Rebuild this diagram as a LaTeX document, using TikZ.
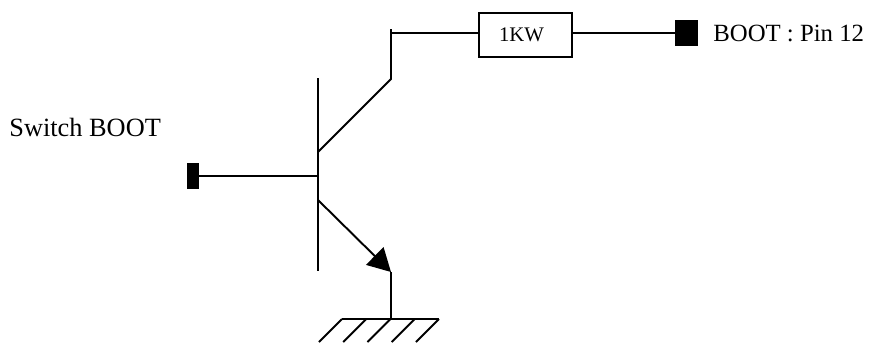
\documentclass[tikz,border=0pt]{standalone}
\usepackage{fontspec}
\setmainfont{Liberation Serif}
\usetikzlibrary{arrows.meta}
\tikzset{
    wire/.style = {line width = 1.1pt},
    pad/.style = {draw = none, fill = black, inner sep = 0pt},
    res/.style = {draw, line width = 1.1pt, inner sep = 0pt, minimum width = 53.3pt, minimum height = 25.5pt, font = \fontsize{11.8}{14}\selectfont},
    lbl/.style = {inner sep = 0pt, anchor = west, font = \fontsize{14.8}{18}\selectfont}
}
\begin{document}
\begin{tikzpicture}[x = 0.02cm, y = -0.02cm]
    \useasboundingbox (0,0) rectangle (877,342);
    \node[res] (r1) at (525.5,35) {\kern-4.5pt 1KW};
    \node[pad, minimum width = 13pt, minimum height = 14.7pt] (boot) at (686.5,33) {};
    \node[pad, minimum width = 6.8pt, minimum height = 14.7pt] (sw) at (193,176) {};
    \node[lbl, font = \fontsize{14.1}{18}\selectfont] (bootlbl) at (713,33) {BOOT : Pin 12};
    \node[lbl, font = \fontsize{15}{18}\selectfont] (swlbl) at (9,127) {Switch BOOT};
    \coordinate (btop) at (318,78);
    \coordinate (bbot) at (318,271);
    \coordinate (bin) at (318,176);
    \coordinate (c0) at (318,152);
    \coordinate (c1) at (391,79);
    \coordinate (c2) at (391,29);
    \coordinate (c3) at (391,33);
    \coordinate (e0) at (318,200);
    \coordinate (e1) at (391,272);
    \coordinate (g0) at (391,319);
    \coordinate (gl) at (342,319);
    \coordinate (gr) at (439,319);
    \draw[wire] (btop) -- (bbot);
    \draw[wire] (sw) -- (bin);
    \draw[wire] (c0) -- (c1) -- (c2);
    \draw[wire] (c3) -- (c3 -| r1.west);
    \draw[wire] (c3 -| r1.east) -- (boot);
    \draw[wire, -{Triangle[length = 13pt, width = 14pt]}] (e0) -- (e1);
    \draw[wire] (e1) -- (g0);
    \draw[wire] (gl) -- (gr);
    % hatching of the ground
    \foreach \gx in {342,366.25,390.5,414.75,439}
        \draw[wire] (\gx,319) -- ++(-23,23);
\end{tikzpicture}
\end{document}
